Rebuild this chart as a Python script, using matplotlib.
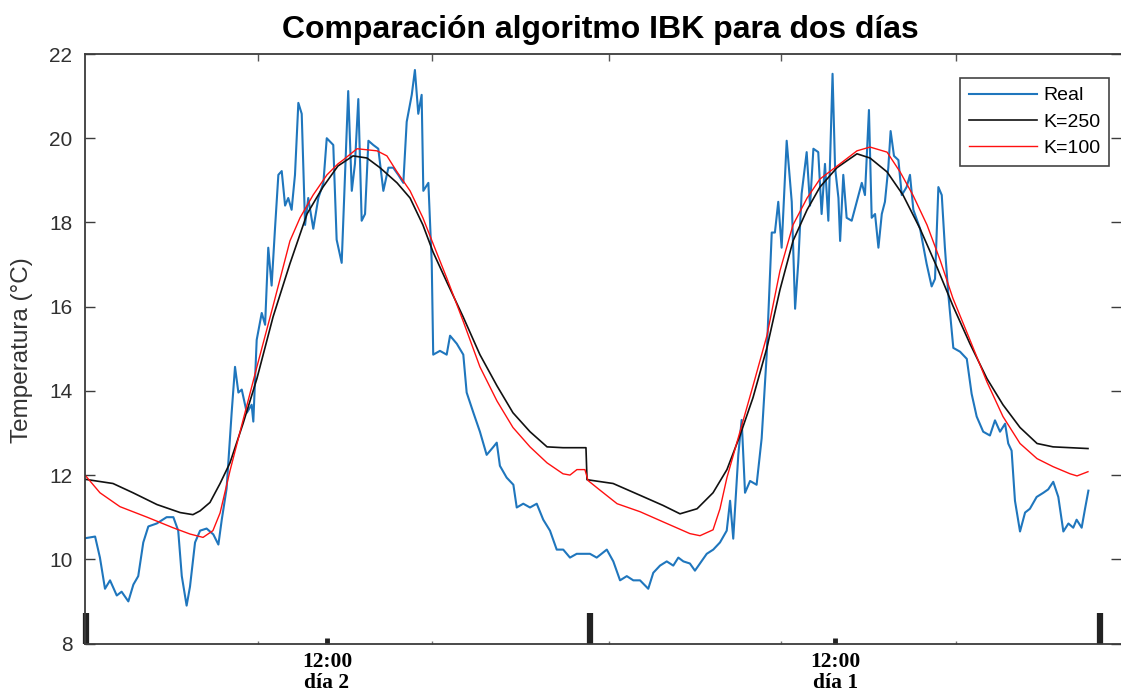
import matplotlib
matplotlib.use("Agg")
import matplotlib.pyplot as plt

plt.rcParams["font.family"] = ["Liberation Sans", "DejaVu Sans"]

# Measured temperature (hours from the start of the record)
hours_real = [0.00, 0.48, 0.71, 0.95, 1.19, 1.51, 1.74, 2.06, 2.30, 2.53,
              2.77, 3.01, 3.41, 3.88, 4.20, 4.43, 4.60, 4.83, 4.99, 5.23,
              5.47, 5.78, 6.10, 6.34, 6.50, 6.73, 6.97, 7.13, 7.29, 7.45,
              7.69, 7.92, 8.00, 8.16, 8.40, 8.56, 8.71, 8.87, 9.03, 9.19,
              9.35, 9.51, 9.66, 9.82, 9.98, 10.14, 10.30, 10.46, 10.61, 10.85,
              11.09, 11.33, 11.49, 11.80, 11.96, 12.20, 12.36, 12.51, 12.68, 12.83,
              12.99, 13.15, 13.31, 13.47, 13.70, 13.94, 14.18, 14.42, 14.65, 14.89,
              15.13, 15.29, 15.53, 15.68, 15.84, 16.00, 16.08, 16.32, 16.48, 16.55,
              16.87, 17.19, 17.35, 17.67, 17.98, 18.14, 18.46, 18.77, 19.09, 19.41,
              19.57, 19.72, 20.04, 20.36, 20.52, 20.83, 21.15, 21.47, 21.78, 22.10,
              22.42, 22.73, 23.05, 23.37, 23.85, 24.00, 24.32, 24.80, 25.11, 25.43,
              25.75, 26.06, 26.38, 26.77, 27.01, 27.33, 27.65, 27.96, 28.20, 28.44,
              28.75, 28.99, 29.23, 29.55, 29.86, 30.18, 30.50, 30.66, 30.81, 31.05,
              31.21, 31.37, 31.61, 31.92, 32.16, 32.40, 32.64, 32.79, 32.95, 33.11,
              33.35, 33.59, 33.75, 33.90, 34.06, 34.30, 34.46, 34.62, 34.85, 35.01,
              35.17, 35.33, 35.53, 35.65, 35.81, 35.89, 36.04, 36.20, 36.44, 36.68,
              36.92, 37.07, 37.26, 37.39, 37.55, 37.71, 37.87, 38.02, 38.18, 38.29,
              38.45, 38.66, 38.82, 39.05, 39.21, 39.37, 39.69, 40.00, 40.24, 40.40,
              40.56, 40.72, 40.87, 41.03, 41.27, 41.59, 41.91, 42.14, 42.38, 42.69,
              43.01, 43.25, 43.49, 43.73, 43.88, 44.04, 44.20, 44.44, 44.68, 44.91,
              45.23, 45.55, 45.78, 46.02, 46.26, 46.50, 46.74, 46.97, 47.13, 47.37,
              47.53, 47.69]
temp_real = [10.50, 10.54, 10.04, 9.30, 9.50, 9.14, 9.23, 9.00, 9.40, 9.60,
             10.40, 10.78, 10.85, 11.00, 11.00, 10.68, 9.60, 8.90, 9.35, 10.40,
             10.68, 10.73, 10.59, 10.35, 10.94, 11.68, 13.48, 14.57, 13.96, 14.03,
             13.48, 13.67, 13.27, 15.21, 15.85, 15.57, 17.40, 16.50, 17.85, 19.13,
             19.22, 18.40, 18.58, 18.30, 19.13, 20.84, 20.58, 17.94, 18.58, 17.85,
             18.58, 18.94, 20.00, 19.84, 17.59, 17.04, 19.13, 21.12, 18.75, 19.39,
             20.93, 18.04, 18.20, 19.94, 19.84, 19.75, 18.75, 19.30, 19.30, 19.13,
             18.94, 20.39, 21.03, 21.62, 20.58, 21.03, 18.75, 18.94, 17.04, 14.86,
             14.95, 14.86, 15.31, 15.12, 14.86, 13.96, 13.48, 13.03, 12.48, 12.67,
             12.77, 12.22, 11.94, 11.77, 11.23, 11.32, 11.23, 11.32, 10.94, 10.68,
             10.23, 10.23, 10.04, 10.13, 10.13, 10.13, 10.04, 10.23, 9.95, 9.50,
             9.60, 9.50, 9.50, 9.30, 9.68, 9.85, 9.95, 9.85, 10.04, 9.95,
             9.90, 9.73, 9.90, 10.13, 10.23, 10.40, 10.68, 11.39, 10.49, 12.48,
             13.31, 11.58, 11.86, 11.77, 12.87, 14.86, 17.76, 17.76, 18.49, 17.40,
             19.94, 18.49, 15.95, 17.04, 18.68, 19.67, 18.40, 19.75, 19.67, 18.20,
             19.39, 18.04, 21.53, 19.30, 18.58, 17.56, 19.13, 18.11, 18.04, 18.49,
             18.94, 18.65, 20.67, 18.11, 18.20, 17.40, 18.20, 18.49, 19.30, 20.17,
             19.58, 19.48, 18.65, 18.84, 19.13, 18.30, 17.85, 17.02, 16.48, 16.66,
             18.84, 18.65, 17.40, 16.30, 15.02, 14.93, 14.76, 13.93, 13.39, 13.03,
             12.94, 13.30, 13.03, 13.22, 12.75, 12.58, 11.39, 10.66, 11.11, 11.20,
             11.48, 11.58, 11.66, 11.84, 11.48, 10.66, 10.85, 10.75, 10.94, 10.75,
             11.20, 11.63]

# IBK estimate with K=250
hours_k250 = [0.00, 1.33, 2.28, 3.42, 4.52, 5.13, 5.47, 5.94, 6.42, 6.89,
              7.51, 8.17, 8.94, 9.74, 10.55, 11.31, 12.02, 12.74, 13.40,
              14.02, 14.83, 15.45, 16.06, 16.54, 17.21, 17.97, 18.77, 19.58, 20.34,
              21.15, 21.96, 22.72, 23.81, 23.86, 25.10, 26.38, 27.47, 28.28, 29.09,
              29.85, 30.51, 31.13, 31.75, 32.41, 33.03, 33.65, 34.32, 34.93, 35.74,
              36.69, 37.31, 38.12, 38.88, 39.69, 40.49, 41.25, 42.06, 42.87, 43.63,
              44.44, 45.25, 46.01, 47.67]
temp_k250 = [11.90, 11.80, 11.58, 11.30, 11.11, 11.06, 11.15, 11.35, 11.80, 12.29,
             13.22, 14.29, 15.76, 17.02, 18.20, 18.84, 19.34, 19.58, 19.53,
             19.30, 18.94, 18.58, 17.94, 17.30, 16.57, 15.76, 14.86, 14.12, 13.48,
             13.03, 12.67, 12.65, 12.65, 11.89, 11.80, 11.52, 11.28, 11.08, 11.20,
             11.58, 12.13, 12.94, 13.84, 15.02, 16.40, 17.56, 18.30, 18.84, 19.30,
             19.63, 19.53, 19.20, 18.65, 17.85, 16.94, 16.02, 15.12, 14.29, 13.67,
             13.13, 12.75, 12.67, 12.63]

# IBK estimate with K=100
hours_k100 = [0.00, 0.71, 1.66, 2.95, 4.18, 4.99, 5.61, 6.08, 6.42, 6.89,
              7.51, 8.17, 8.94, 9.74, 10.22, 10.84, 11.50, 12.02, 12.26, 12.93,
              13.88, 14.35, 14.83, 15.45, 16.06, 16.54, 17.21, 17.97, 18.77, 19.58,
              20.34, 21.15, 21.96, 22.72, 23.05, 23.38, 23.76, 23.91, 24.38, 25.29,
              26.38, 27.47, 28.75, 29.23, 29.85, 30.18, 30.51, 31.13, 31.75, 32.41,
              33.03, 33.65, 34.32, 34.93, 35.88, 36.69, 37.31, 38.12, 38.74, 39.35,
              40.02, 40.64, 41.25, 42.06, 42.87, 43.63, 44.44, 45.25, 46.01, 46.82,
              47.15, 47.67]
temp_k100 = [12.00, 11.58, 11.25, 11.00, 10.75, 10.60, 10.52, 10.68, 11.10, 12.10,
             13.30, 14.57, 16.02, 17.56, 18.11, 18.65, 19.13, 19.39, 19.48, 19.75,
             19.70, 19.58, 19.20, 18.75, 18.11, 17.50, 16.66, 15.66, 14.57, 13.76,
             13.13, 12.67, 12.29, 12.03, 12.00, 12.13, 12.13, 11.87, 11.68, 11.32,
             11.13, 10.89, 10.61, 10.56, 10.70, 11.20, 11.94, 13.03, 14.12, 15.31,
             16.85, 17.94, 18.58, 19.03, 19.39, 19.70, 19.79, 19.67, 19.20, 18.65,
             17.94, 17.11, 16.20, 15.21, 14.21, 13.39, 12.75, 12.39, 12.20, 12.03,
             11.98, 12.08]

y_ticks = [8, 10, 12, 14, 16, 18, 20, 22]
noon_ticks = [11.50, 35.65]
noon_labels = ["12:00\ndía 2", "12:00\ndía 1"]
day_edges = [0.05, 24.0, 48.24]
grid_ticks = [8.2, 16.5, 24.9, 33.1, 41.4]

W, H = 1121, 693
fig = plt.figure(figsize=(W / 100, H / 100), dpi=100)
ax = fig.add_axes([85 / W, 49.5 / H, (W - 85) / W, 589.5 / H])

ax.plot(hours_real, temp_real, color="#1f76bd", lw=1.5, label="Real")
ax.plot(hours_k250, temp_k250, color="#111111", lw=1.2, label="K=250")
ax.plot(hours_k100, temp_k100, color="#ff1010", lw=1.0, label="K=100")

ax.set_xlim(0, (W - 85) / 21.04)
ax.set_ylim(8, 22)

axis_col = "#3c3c3c"
for side in ("left", "top", "bottom"):
    ax.spines[side].set_color(axis_col)
    ax.spines[side].set_linewidth(1.3)
ax.spines["right"].set_visible(False)

ax.set_yticks(y_ticks)
ax.tick_params(axis="y", direction="in", length=7, width=1.0, color=axis_col,
               labelsize=15, labelcolor="#303030", pad=9, left=True, right=True)

ax.set_xticks(noon_ticks)
ax.set_xticklabels(noon_labels, fontfamily="Liberation Serif", fontweight="bold",
                   fontsize=15.5)
for t in ax.get_xticklabels():
    t.set_linespacing(1.05)
ax.tick_params(axis="x", which="major", direction="in", length=4, width=3.5,
               color="#222222", pad=6, top=False)
ax.set_xticks(grid_ticks, minor=True)
ax.tick_params(axis="x", which="minor", direction="in", length=2, width=1,
               color="#777777", top=False)

top_ax = ax.secondary_xaxis("top")
top_ax.set_xticks(grid_ticks, labels=[""] * len(grid_ticks))
top_ax.tick_params(direction="in", length=5, width=1, color="#555555")
top_ax.spines["top"].set_visible(False)

edge_ax = ax.secondary_xaxis("bottom")
edge_ax.set_xticks(day_edges, labels=[""] * len(day_edges))
edge_ax.tick_params(direction="in", length=22, width=4.5, color="#222222")
edge_ax.spines["bottom"].set_visible(False)

leg = ax.legend(loc="upper right", bbox_to_anchor=(1109 / W, 1 - 78 / H),
                bbox_transform=fig.transFigure, fontsize=14, frameon=True,
                fancybox=False, edgecolor="#444444", framealpha=1,
                handlelength=3.5, handletextpad=0.3, labelspacing=0.45,
                borderpad=0.45, borderaxespad=0)
leg.get_frame().set_linewidth(1.2)

fig.text(600 / W, 1 - 30 / H, "Comparación algoritmo IBK para dos días",
         ha="center", va="center", fontsize=23, fontweight="bold")
fig.text(22 / W, 1 - 350 / H, "Temperatura (°C)", rotation=90,
         ha="center", va="center", fontsize=17.5, color="#333333")

fig.savefig("out.png", dpi=100)
